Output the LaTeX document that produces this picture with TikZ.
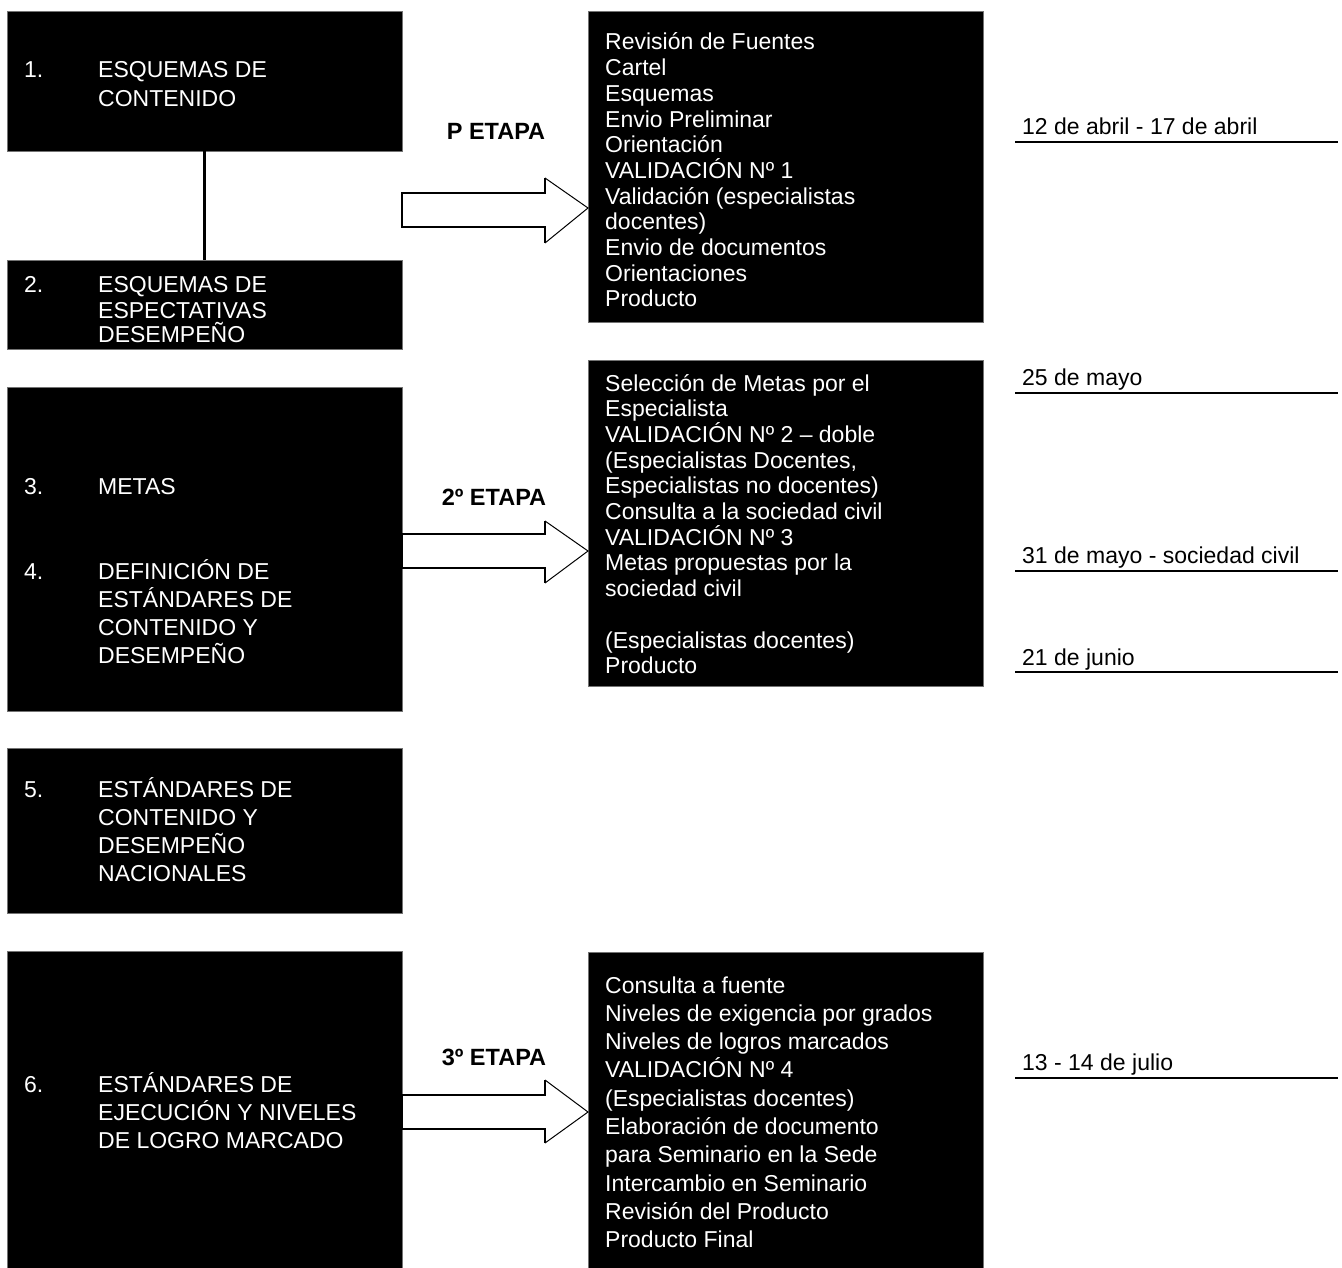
\documentclass[tikz,border=0pt]{standalone}
\usepackage{fontspec}
\setmainfont{Liberation Sans}
\newcommand{\tlines}[1]{\parbox[t]{380pt}{\raggedright #1}}
\begin{document}
\begin{tikzpicture}[x=1pt,y=-1pt,
  blk/.style={fill=black,draw=black!55,line width=0.6pt,anchor=north west,inner sep=0,outer sep=0},
  wt/.style={text=white,anchor=base west,inner sep=0,font=\fontsize{23}{28.3}\selectfont},
  rt/.style={text=white,anchor=base west,inner sep=0,font=\fontsize{23}{25.7}\selectfont},
  dt/.style={anchor=base west,inner sep=0,font=\fontsize{23}{27}\selectfont},
  et/.style={anchor=base,inner sep=0,font=\bfseries\fontsize{23.5}{26}\selectfont},
  shaft/.style={line width=1.8pt,line join=miter},
  head/.style={line width=1pt},
  dline/.style={line width=1.6pt}]
\useasboundingbox (0,0) rectangle (1342,1268);

% left boxes
\node[blk,minimum width=395,minimum height=140] (b1) at (7,11) {};
\node[blk,minimum width=395,minimum height=89] (b2) at (7,260) {};
\node[blk,minimum width=395,minimum height=324] (b3) at (7,387) {};
\node[blk,minimum width=395,minimum height=165] (b5) at (7,748) {};
\node[blk,minimum width=395,minimum height=318] (b6) at (7,951) {};
% right boxes
\node[blk,minimum width=395,minimum height=311] (r1) at (588,11) {};
\node[blk,minimum width=395,minimum height=326] (r2) at (588,360) {};
\node[blk,minimum width=395,minimum height=318] (r3) at (588,952) {};

\draw[line width=3pt] (b1.south) -- (b2.north);

% left texts
\node[wt] (n1) at (24,78) {1.};
\node[wt] (t1) at (98,78) {\tlines{ESQUEMAS DE\\CONTENIDO}};
\node[wt] (n2) at (24,293) {2.};
\node[wt,font=\fontsize{23}{25}\selectfont] (t2) at (98,293) {\tlines{ESQUEMAS DE\\ESPECTATIVAS\\DESEMPEÑO}};
\node[wt] (n3) at (24,494) {3.};
\node[wt] (t3) at (98,494) {METAS};
\node[wt] (n4) at (24,579) {4.};
\node[wt] (t4) at (98,579) {\tlines{DEFINICIÓN DE\\ESTÁNDARES DE\\CONTENIDO Y\\DESEMPEÑO}};
\node[wt] (n5) at (24,797) {5.};
\node[wt] (t5) at (98,797) {\tlines{ESTÁNDARES DE\\CONTENIDO Y\\DESEMPEÑO\\NACIONALES}};
\node[wt] (n6) at (24,1092) {6.};
\node[wt] (t6) at (98,1092) {\tlines{ESTÁNDARES DE\\EJECUCIÓN Y NIVELES\\DE LOGRO MARCADO}};

% right texts
\node[rt] (rt1) at (605,50) {\tlines{Revisión de Fuentes\\Cartel\\Esquemas\\Envio Preliminar\\Orientación\\VALIDACIÓN Nº 1\\Validación (especialistas\\docentes)\\Envio de documentos\\Orientaciones\\Producto}};
\node[rt] (rt2) at (605,391) {\tlines{Selección de Metas por el\\Especialista\\VALIDACIÓN Nº 2 – doble\\(Especialistas Docentes,\\Especialistas no docentes)\\Consulta a la sociedad civil\\VALIDACIÓN Nº 3\\Metas propuestas por la\\sociedad civil\\\mbox{}\\(Especialistas docentes)\\Producto}};
\node[rt,font=\fontsize{23}{28.3}\selectfont] (rt3) at (605,993) {\tlines{Consulta a fuente\\Niveles de exigencia por grados\\Niveles de logros marcados\\VALIDACIÓN Nº 4\\(Especialistas docentes)\\Elaboración de documento\\para Seminario en la Sede\\Intercambio en Seminario\\Revisión del Producto\\Producto Final}};

% stage labels
\node[et] (e1) at (496,140) {P ETAPA};
\node[et] (e2) at (494,505) {2º ETAPA};
\node[et] (e3) at (494,1065) {3º ETAPA};

% block arrows
\fill[white] (402,193) -- (545,193) -- (545,178) -- (588,208) -- (545,243) -- (545,227) -- (402,227) -- cycle;
\draw[shaft] (545,178) -- (545,193) -- (402,193) -- (402,227) -- (545,227) -- (545,243);
\draw[head] (545,178) -- (588,208) -- (545,243);
\fill[white] (402,534) -- (545,534) -- (545,521) -- (588,551) -- (545,583) -- (545,568) -- (402,568) -- cycle;
\draw[shaft] (545,521) -- (545,534) -- (402,534) -- (402,568) -- (545,568) -- (545,583);
\draw[head] (545,521) -- (588,551) -- (545,583);
\fill[white] (402,1095) -- (545,1095) -- (545,1080) -- (588,1112) -- (545,1143) -- (545,1129) -- (402,1129) -- cycle;
\draw[shaft] (545,1080) -- (545,1095) -- (402,1095) -- (402,1129) -- (545,1129) -- (545,1143);
\draw[head] (545,1080) -- (588,1112) -- (545,1143);

% dates
\node[dt] (d1) at (1022,135) {12 de abril - 17 de abril};
\node[dt] (d2) at (1022,385) {25 de mayo};
\node[dt] (d3) at (1022,563) {31 de mayo - sociedad civil};
\node[dt] (d4) at (1022,665) {21 de junio};
\node[dt] (d5) at (1022,1070) {13 - 14 de julio};
\draw[dline] (1015,142) -- (1338,142);
\draw[dline] (1015,393) -- (1338,393);
\draw[dline] (1015,571) -- (1338,571);
\draw[dline] (1015,672) -- (1338,672);
\draw[dline] (1015,1078) -- (1338,1078);
\end{tikzpicture}
\end{document}
